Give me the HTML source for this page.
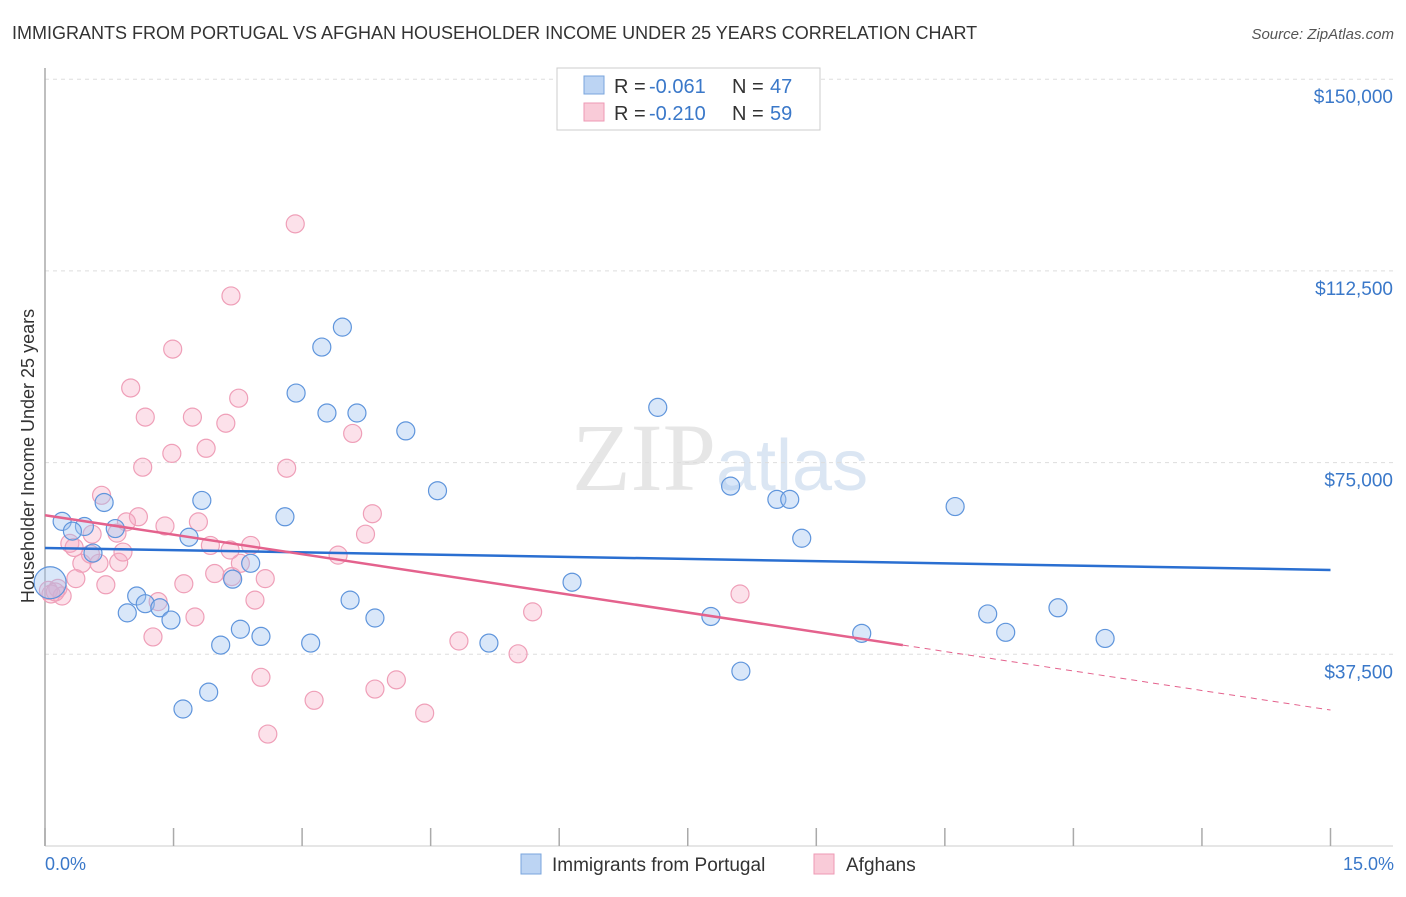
<!DOCTYPE html>
<html><head><meta charset="utf-8"><style>
body{margin:0;background:#fff;font-family:"Liberation Sans",sans-serif}
</style></head><body>
<svg id="c" width="1406" height="892" xmlns="http://www.w3.org/2000/svg">
<text x="12" y="39" font-size="18" fill="#333">IMMIGRANTS FROM PORTUGAL VS AFGHAN HOUSEHOLDER INCOME UNDER 25 YEARS CORRELATION CHART</text>
<text x="1394" y="39" font-size="15" fill="#555" font-style="italic" text-anchor="end">Source: ZipAtlas.com</text>
<text x="716" y="490" font-size="96" fill="#e6e6e6" font-family="Liberation Serif,serif" text-anchor="end">ZIP</text>
<text x="716" y="490" font-size="72" fill="#dbe6f3">atlas</text>
<g id="grid"></g><g id="axes"></g><g id="pts"></g><g id="trend"></g>
<text transform="translate(34,456) rotate(-90)" font-size="18" fill="#333" text-anchor="middle">Householder Income Under 25 years</text>
<text x="45" y="870" font-size="18" fill="#3a78c9">0.0%</text>
<text x="1394" y="870" font-size="18" fill="#3a78c9" text-anchor="end">15.0%</text>
<g>
<rect x="557" y="68" width="263" height="62" fill="#fff" stroke="#ccc"/>
<rect x="584" y="76" width="20" height="18" fill="#bcd4f3" stroke="#7aa5dd"/>
<rect x="584" y="103" width="20" height="18" fill="#f9cbd8" stroke="#ee9ab4"/>
<text x="614" y="93" font-size="20" fill="#333">R = </text>
<text x="649" y="93" font-size="20" fill="#3a78c9">-0.061</text>
<text x="732" y="93" font-size="20" fill="#333">N = </text>
<text x="770" y="93" font-size="20" fill="#3a78c9">47</text>
<text x="614" y="120" font-size="20" fill="#333">R = </text>
<text x="649" y="120" font-size="20" fill="#3a78c9">-0.210</text>
<text x="732" y="120" font-size="20" fill="#333">N = </text>
<text x="770" y="120" font-size="20" fill="#3a78c9">59</text>
</g>
<g>
<rect x="521" y="854" width="20" height="20" fill="#bcd4f3" stroke="#7aa5dd"/>
<text x="552" y="871" font-size="19" fill="#333">Immigrants from Portugal</text>
<rect x="814" y="854" width="20" height="20" fill="#f9cbd8" stroke="#ee9ab4"/>
<text x="846" y="871" font-size="19" fill="#333">Afghans</text>
</g>
</svg>
<script>
const yTicks=[37500,75000,112500,150000];
const yTickLabels=["$37,500","$75,000","$112,500","$150,000"];
const xTicks=[0,1.5,3,4.5,6,7.5,9,10.5,12,13.5,15];
const bluePct=[0.2,0.46,0.32,0.69,0.82,0.56,0.96,1.07,1.17,1.34,1.47,1.61,1.68,1.83,1.91,2.05,2.19,2.28,2.40,2.52,2.80,2.93,3.10,3.23,3.29,3.47,3.56,3.64,3.85,4.21,4.58,5.18,6.15,7.15,7.77,8.00,8.12,8.54,8.69,8.83,9.53,10.62,11.00,11.21,11.82,12.37,0.06];
const blueVal=[63.5,62.5,61.6,67.2,62.1,57.3,45.6,48.9,47.4,46.6,44.2,26.8,60.4,67.6,30.1,39.3,52.2,42.4,55.3,41.0,64.4,88.6,39.7,97.6,84.7,101.5,48.1,84.7,44.6,81.2,69.5,39.7,51.6,85.8,44.9,70.4,34.2,67.8,67.8,60.2,41.6,66.4,45.4,41.8,46.6,40.6,51.5];
const pinkPct=[2.92,2.17,1.49,1.00,2.26,1.17,1.72,2.11,3.59,1.88,1.48,1.14,2.82,0.66,1.09,1.40,0.95,1.79,3.82,0.29,0.55,0.84,3.74,1.93,2.40,0.34,0.43,0.63,0.86,0.91,3.42,0.36,0.71,1.98,2.18,2.57,1.62,0.04,0.15,0.20,0.07,2.45,1.32,5.69,1.75,1.26,4.83,5.52,2.52,3.14,4.10,3.85,4.43,2.60,8.11,2.28,2.16,0.12,0.53];
const pinkVal=[121.7,107.6,97.2,89.6,87.6,83.9,83.9,82.7,80.7,77.8,76.8,74.1,73.9,68.6,64.4,62.6,63.4,63.4,65.0,59.2,61.0,61.2,61.0,58.8,58.8,58.4,55.3,55.3,55.5,57.5,56.9,52.3,51.1,53.3,52.7,52.3,51.3,50.0,50.4,48.9,49.3,48.1,47.8,45.8,44.8,40.9,40.1,37.6,33.0,28.5,32.5,30.7,26.0,21.9,49.3,55.3,57.9,49.7,57.1];
const blueTrend=[58.3,54.0];
const pinkTrend=[64.7,39.3,26.6];
const pinkSolidEnd=10.01;
const NS="http://www.w3.org/2000/svg";
const X=p=>45+p*85.7, Y=v=>846-v*191.7/37.5;
function mk(tag,attrs,parent){const e=document.createElementNS(NS,tag);for(const k in attrs)e.setAttribute(k,attrs[k]);parent.appendChild(e);return e;}
const grid=document.getElementById('grid'),axes=document.getElementById('axes'),pts=document.getElementById('pts'),tr=document.getElementById('trend');
yTicks.forEach((t,i)=>{
 const l=mk('line',{x1:45,x2:1393,y1:Y(t/1000),y2:Y(t/1000),stroke:'#ddd','stroke-dasharray':'4,4'},grid);
 
 
 const tx=mk('text',{x:1393,y:Y(t/1000)+24,'font-size':19,fill:'#3a78c9','text-anchor':'end'},grid);
 tx.textContent=yTickLabels[i];
 
 
});
const ax=mk('line',{x1:45,x2:45,y1:68,y2:846,stroke:'#aaa','stroke-width':1.5},axes);


const bx=mk('line',{x1:45,x2:1393,y1:846,y2:846,stroke:'#ccc'},axes);


xTicks.forEach(t=>{const l=mk('line',{x1:X(t),x2:X(t),y1:828,y2:846,stroke:'#aaa','stroke-width':1.5},axes);
 
 });
pinkPct.forEach((p,i)=>{const c=mk('circle',{cx:X(p),cy:Y(pinkVal[i]),r:9,fill:'rgba(246,170,195,0.35)',stroke:'#ef9fb8','stroke-width':1.2},pts);
 
 });
bluePct.forEach((p,i)=>{const c=mk('circle',{cx:X(p),cy:Y(blueVal[i]),r:i==bluePct.length-1?16:9,fill:'rgba(160,195,240,0.4)',stroke:'#5f95dc','stroke-width':1.2},pts);
 
 });
let l=mk('line',{x1:X(0),y1:Y(blueTrend[0]),x2:X(15),y2:Y(blueTrend[1]),stroke:'#2a6fd1','stroke-width':2.5},tr);


l=mk('line',{x1:X(0),y1:Y(pinkTrend[0]),x2:X(pinkSolidEnd),y2:Y(pinkTrend[1]),stroke:'#e4628d','stroke-width':2.5},tr);


l=mk('line',{x1:X(pinkSolidEnd),y1:Y(pinkTrend[1]),x2:X(15),y2:Y(pinkTrend[2]),stroke:'#e4628d','stroke-width':1,'stroke-dasharray':'6,5'},tr);


</script>
</body></html>
